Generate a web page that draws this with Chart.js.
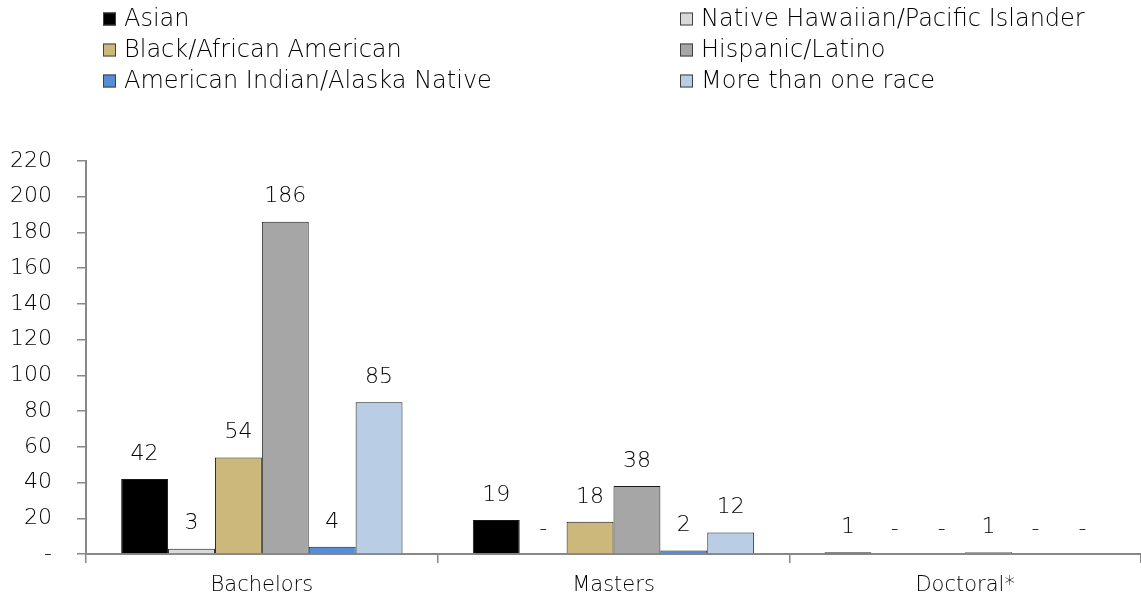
<!DOCTYPE html>
<html><head><meta charset="utf-8">
<script src="https://cdn.jsdelivr.net/npm/chart.js@4"></script>
<style>html,body{margin:0;padding:0;background:#fff}#wrap{width:1141px;height:606px;position:relative}</style>
</head><body><div id="wrap"><canvas id="c" width="1141" height="606"></canvas></div>
<script>
const categories = ["Bachelors", "Masters", "Doctoral*"];
const seriesNames = ["Asian", "Native Hawaiian/Pacific Islander", "Black/African American", "Hispanic/Latino", "American Indian/Alaska Native", "More than one race"];
const asian = [42, 19, 1];
const nativeHawaiian = [3, 0, 0];
const black = [54, 18, 0];
const hispanic = [186, 38, 1];
const americanIndian = [4, 2, 0];
const multiRace = [85, 12, 0];
const yTicks = [0, 20, 40, 60, 80, 100, 120, 140, 160, 180, 200, 220];
const colors = ["#000000", "#d9d9d9", "#cdb87c", "#a5a6a5", "#558ed5", "#b9cde5"];

const FONT = "'DejaVu Sans', sans-serif";
const W = 200;
const TXT = "#000000";
const values = [asian, nativeHawaiian, black, hispanic, americanIndian, multiRace];

const legendPlugin = {
  id: 'gridLegend',
  afterDraw(chart) {
    const ctx = chart.ctx;
    const cols = [103, 680], rows = [19, 50, 81];
    ctx.save();
    ctx.font = W + " 24px " + FONT;
    ctx.textBaseline = 'middle';
    ctx.textAlign = 'left';
    chart.data.datasets.forEach((ds, i) => {
      const x = cols[i % 2], y = rows[Math.floor(i / 2)];
      ctx.fillStyle = ds.backgroundColor;
      ctx.fillRect(x, y - 6.5, 13, 13);
      ctx.strokeStyle = '#404040';
      ctx.lineWidth = 1;
      ctx.strokeRect(x + 0.5, y - 6, 12, 12);
      ctx.fillStyle = TXT;
      ctx.fillText(ds.label, x + 21, y + 1);
    });
    ctx.restore();
  }
};

const labelPlugin = {
  id: 'valueLabels',
  afterDatasetsDraw(chart) {
    const ctx = chart.ctx;
    const ys = chart.scales.y;
    ctx.save();
    ctx.font = W + " 22px " + FONT;
    ctx.fillStyle = TXT;
    ctx.textAlign = 'center';
    ctx.textBaseline = 'bottom';
    chart.data.datasets.forEach((ds, i) => {
      chart.getDatasetMeta(i).data.forEach((el, j) => {
        const v = ds.data[j];
        const y = ys.getPixelForValue(v);
        ctx.fillText(v === 0 ? '-' : String(v), el.x, y - 14);
      });
    });
    ctx.restore();
  }
};

new Chart(document.getElementById('c'), {
  type: 'bar',
  data: {
    labels: categories,
    datasets: seriesNames.map((n, i) => ({
      label: n,
      data: values[i],
      backgroundColor: colors[i],
      borderColor: '#1a1a1a',
      borderWidth: ctx => (ctx.raw === 0 ? 0 : 1),
      borderSkipped: 'start',
      categoryPercentage: 0.8,
      barPercentage: 1.0
    }))
  },
  options: {
    responsive: false,
    animation: false,
    devicePixelRatio: 1,
    layout: { padding: { top: 161, left: 0, right: 0, bottom: 0 } },
    plugins: { legend: { display: false }, tooltip: { enabled: false } },
    scales: {
      x: {
        afterFit: axis => { axis.height = 52; },
        grid: { display: true, offset: true, drawOnChartArea: false, color: '#888', tickLength: 9, lineWidth: 1.5 },
        border: { color: '#888', width: 2 },
        ticks: { color: TXT, font: { family: FONT, size: 21, weight: W }, padding: 10 }
      },
      y: {
        min: 0, max: 220,
        afterBuildTicks: axis => { axis.ticks = yTicks.map(v => ({ value: v })); },
        afterFit: axis => { axis.width = 86; },
        grid: { display: true, drawOnChartArea: false, color: '#888', tickLength: 9, lineWidth: 1.5 },
        border: { color: '#888', width: 2 },
        ticks: { color: TXT, font: { family: FONT, size: 22, weight: W }, padding: 25, callback: v => (v === 0 ? '-' : v) }
      }
    }
  },
  plugins: [legendPlugin, labelPlugin]
});
</script></body></html>
